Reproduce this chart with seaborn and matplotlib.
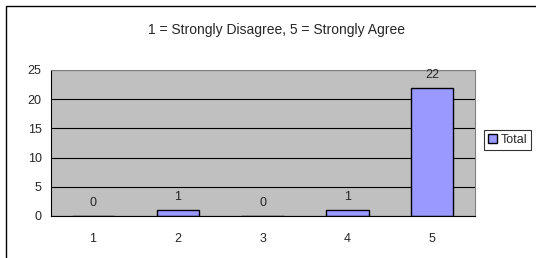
import matplotlib
matplotlib.use("Agg")
import matplotlib.pyplot as plt
import seaborn as sns
import pandas as pd
from matplotlib.patches import Rectangle

# --- data ---
categories = ["1", "2", "3", "4", "5"]
totals = [0, 1, 0, 1, 22]
series_name = "Total"
title = "1 = Strongly Disagree, 5 = Strongly Agree"
y_ticks = [0, 5, 10, 15, 20, 25]

df = pd.DataFrame({"rating": categories, "count": totals})

sns.set_style("white")
plt.rcParams["font.family"] = ["Liberation Sans", "DejaVu Sans"]
plt.rcParams["font.size"] = 9

fig = plt.figure(figsize=(5.36, 2.58), dpi=100)
ax = fig.add_axes([50.6 / 536, 1 - 216 / 258, (474.5 - 50.6) / 536, (216 - 70) / 258])

# outer chart frame (cut off on the right and bottom edges)
fig.patches.append(Rectangle((5.5 / 536, -0.1), 1.2, (258 - 5.5) / 258 + 0.1,
                             transform=fig.transFigure, fill=False,
                             edgecolor="black", linewidth=1.0))

sns.barplot(data=df, x="rating", y="count", color="#9999FF", width=0.5,
            edgecolor="black", linewidth=1.0, saturation=1, label=series_name, ax=ax)

ax.set_facecolor("#C0C0C0")
ax.set_ylim(0, 25)
ax.set_yticks(y_ticks)
ax.yaxis.grid(True, color="black", linewidth=0.8)
ax.set_axisbelow(True)
ax.set_xlabel("")
ax.set_ylabel("")

for side in ["top", "right"]:
    ax.spines[side].set_color("#808080")
    ax.spines[side].set_linewidth(0.8)
for side in ["left", "bottom"]:
    ax.spines[side].set_color("black")
    ax.spines[side].set_linewidth(0.8)

# ticks: x ticks at category boundaries, labels centred
ax.set_xticks([i - 0.5 for i in range(len(categories) + 1)], minor=True)
ax.tick_params(axis="x", which="minor", length=4, color="black", direction="out", width=0.8)
ax.tick_params(axis="x", which="major", length=0, pad=12, labelsize=9)
ax.tick_params(axis="y", length=4, color="black", direction="out", width=0.8, labelsize=9, pad=2.5)
ax.set_xlim(-0.5, len(categories) - 0.5)

for container in ax.containers:
    ax.bar_label(container, labels=[str(v) for v in totals], padding=5, fontsize=9)

fig.text(277 / 536, 1 - 30 / 258, title, fontsize=10, ha="center", va="center")

leg = ax.legend(loc="center left", bbox_to_anchor=(484 / 536, 1 - 140 / 258),
                bbox_transform=fig.transFigure, frameon=True, fancybox=False,
                handlelength=0.7, handleheight=0.7, handletextpad=0.3,
                borderpad=0.3, fontsize=9, borderaxespad=0)
leg.get_frame().set_edgecolor("black")
leg.get_frame().set_linewidth(0.8)

fig.savefig("out.png", dpi=100)
